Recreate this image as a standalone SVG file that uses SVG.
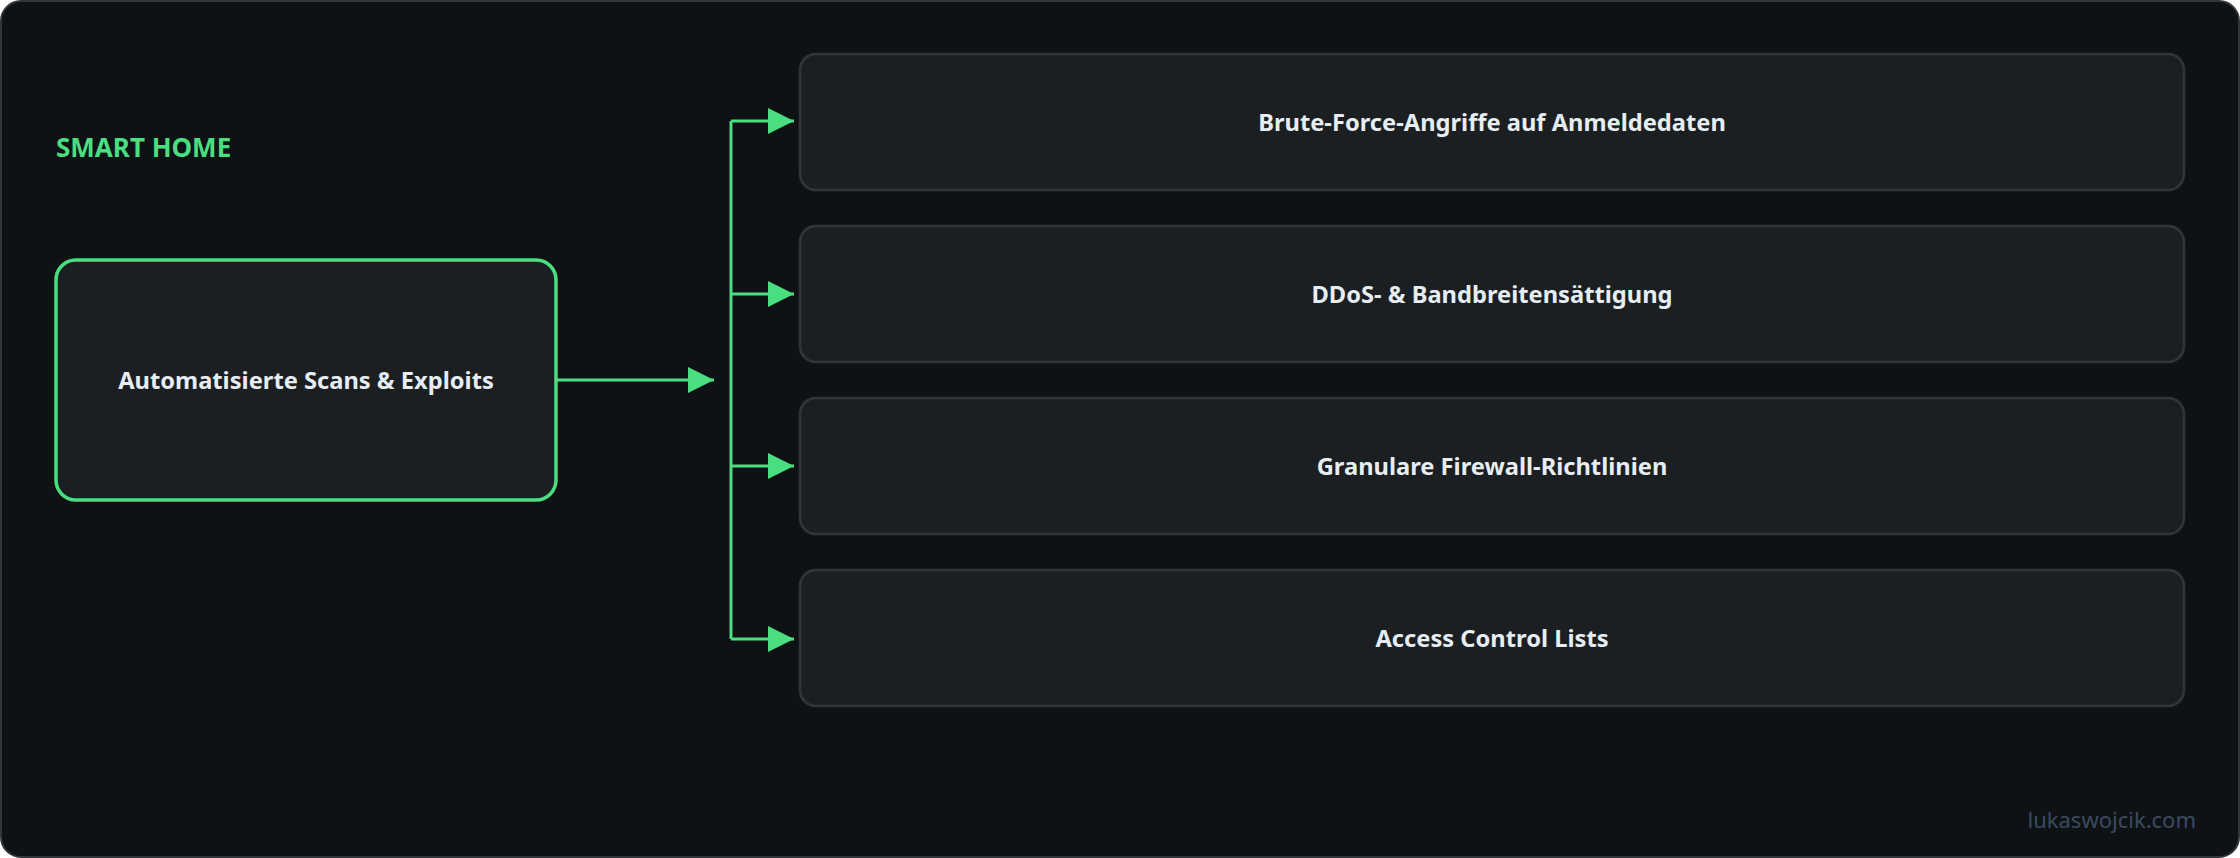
<svg xmlns="http://www.w3.org/2000/svg" width="2240" height="858" viewBox="0 0 2240 858">
<style>
.n{fill:#1c1f22;stroke:#30363d;stroke-width:2.5}
.t{font-family:"Noto Sans","Liberation Sans",sans-serif;font-weight:bold;font-size:23.7px;fill:#e6edf3;text-anchor:middle;dominant-baseline:central}
.c{stroke:#4ade80;stroke-width:3;fill:none}
</style>
<defs>
<marker id="b" viewBox="0 0 10 10" refX="10" refY="5" markerWidth="26" markerHeight="26" markerUnits="userSpaceOnUse" orient="auto"><path d="M0,0L10,5L0,10z" fill="#4ade80"/></marker></defs>
<rect x="1" y="1" width="2238" height="856" rx="20" fill="#0f1215" stroke="#30363d" stroke-width="2"/>
<text x="56" y="147" font-family="Noto Sans,Liberation Sans,sans-serif" font-weight="bold" font-size="26" fill="#4ade80" dominant-baseline="central">SMART HOME</text>
<g id="connectors">
<path class="c" d="M556,380H714" marker-end="url(#b)"/>
<path class="c" d="M731,121V639"/>
<path class="c" d="M731,121H794" marker-end="url(#b)"/>
<path class="c" d="M731,294H794" marker-end="url(#b)"/>
<path class="c" d="M731,466H794" marker-end="url(#b)"/>
<path class="c" d="M731,639H794" marker-end="url(#b)"/>
</g>
<g id="src"><rect x="56" y="260" width="500" height="240" rx="20" fill="#1c1f22" stroke="#4ade80" stroke-width="3.5"/><text class="t" x="306" y="380">Automatisierte Scans &amp; Exploits</text></g>
<g id="n1"><rect class="n" x="800" y="54" width="1384" height="136" rx="16"/><text class="t" x="1492" y="122">Brute-Force-Angriffe auf Anmeldedaten</text></g>
<g id="n2"><rect class="n" x="800" y="226" width="1384" height="136" rx="16"/><text class="t" x="1492" y="294">DDoS- &amp; Bandbreitensättigung</text></g>
<g id="n3"><rect class="n" x="800" y="398" width="1384" height="136" rx="16"/><text class="t" x="1492" y="466">Granulare Firewall-Richtlinien</text></g>
<g id="n4"><rect class="n" x="800" y="570" width="1384" height="136" rx="16"/><text class="t" x="1492" y="638">Access Control Lists</text></g>
<text x="2196" y="819" text-anchor="end" font-family="Noto Sans,Liberation Sans,sans-serif" font-size="22" fill="#3b4a60" dominant-baseline="central">lukaswojcik.com</text>
</svg>
